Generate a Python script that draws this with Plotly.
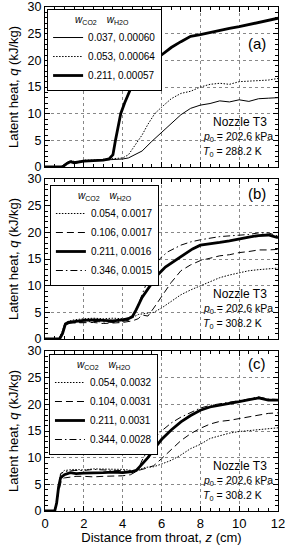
import plotly.graph_objects as go

# ---------------- data ----------------
# Panel (a)  T0 = 288.2 K
a1_label = "0.037, 0.00060"
a1_z = [0, 0.8, 1.0, 1.2, 1.4, 1.6, 1.8, 2.0, 2.5, 3.0, 3.5, 4.0, 4.3, 4.6, 5.0, 5.5, 6.0, 6.5, 7.0, 7.5, 8.0, 8.5, 9.0, 9.5, 10.0, 10.5, 11.0, 11.5, 12.0]
a1_q = [0, 0, 0.5, 1.0, 1.1, 0.7, 1.0, 1.2, 1.2, 1.3, 1.4, 1.5, 1.7, 2.2, 3.0, 4.8, 6.5, 8.2, 9.8, 11.0, 11.6, 11.9, 12.4, 12.2, 12.6, 12.3, 12.8, 12.9, 13.0]

a2_label = "0.053, 0.00064"
a2_z = [0, 0.8, 1.0, 1.2, 1.4, 1.6, 1.8, 2.0, 2.5, 3.0, 3.5, 4.0, 4.3, 4.6, 5.0, 5.3, 5.65, 6.0, 6.5, 7.0, 7.5, 8.0, 8.5, 9.0, 9.5, 10.0, 10.5, 11.0, 11.5, 12.0]
a2_q = [0, 0, 0.4, 0.9, 1.2, 0.9, 1.1, 1.3, 1.3, 1.4, 1.5, 1.7, 2.3, 3.8, 6.0, 8.0, 10.0, 11.2, 12.8, 13.8, 14.2, 15.0, 15.5, 15.7, 15.5, 16.0, 16.1, 16.2, 16.3, 16.6]

a3_label = "0.211, 0.00057"
a3_z = [0, 0.9, 1.1, 1.3, 1.5, 1.7, 2.0, 2.5, 3.0, 3.3, 3.5, 3.63, 3.9, 4.1, 4.45, 5.0, 5.65, 6.0, 6.5, 7.0, 7.5, 8.0, 8.5, 9.0, 9.5, 10.0, 10.5, 11.0, 11.5, 12.0]
a3_q = [0, 0, 0.6, 1.0, 0.8, 0.9, 1.1, 1.2, 1.3, 1.5, 2.3, 5.0, 10.0, 12.0, 15.0, 17.6, 20.0, 21.0, 22.4, 23.5, 24.5, 24.8, 25.2, 25.7, 26.0, 26.3, 26.7, 27.1, 27.6, 27.9]

# Panel (b)  T0 = 308.2 K
b1_label = "0.054, 0.0017"
b1_z = [0, 0.7, 0.9, 1.0, 1.2, 1.5, 2.0, 2.5, 3.0, 3.5, 4.0, 4.5, 4.8, 5.2, 5.6, 6.0, 6.5, 7.0, 7.5, 8.0, 8.5, 9.0, 9.5, 10.0, 10.5, 11.0, 11.5, 12.0]
b1_q = [0, 0, 1.5, 2.8, 3.3, 3.6, 3.8, 3.9, 3.8, 3.9, 3.8, 4.0, 4.6, 4.8, 5.0, 5.8, 7.0, 8.3, 9.2, 10.0, 10.8, 11.5, 12.0, 12.4, 12.8, 13.0, 13.2, 13.3]

b2_label = "0.106, 0.0017"
b2_z = [0, 0.7, 0.9, 1.05, 1.3, 2.0, 2.5, 3.0, 3.5, 4.0, 4.5, 4.8, 5.0, 5.3, 5.6, 6.0, 6.5, 7.0, 7.5, 8.0, 8.5, 9.0, 9.5, 10.0, 10.5, 11.0, 11.5, 12.0]
b2_q = [0, 0, 1.2, 2.7, 3.0, 3.0, 3.1, 2.9, 3.0, 3.1, 3.4, 3.8, 4.5, 4.3, 5.8, 8.0, 10.6, 12.8, 13.9, 14.7, 15.2, 15.6, 15.8, 16.2, 16.4, 16.7, 16.7, 16.8]

b3_label = "0.211, 0.0016"
b3_z = [0, 0.75, 0.9, 1.05, 1.2, 1.5, 2.0, 2.5, 3.0, 3.5, 4.0, 4.3, 4.5, 4.7, 5.0, 5.4, 5.8, 6.2, 6.8, 7.2, 7.6, 8.0, 8.5, 9.0, 9.5, 10.0, 10.5, 11.0, 11.5, 12.0]
b3_q = [0, 0, 1.0, 2.8, 3.1, 3.3, 3.5, 3.6, 3.5, 3.4, 3.6, 3.8, 4.2, 5.5, 7.8, 10.0, 12.0, 13.5, 15.0, 16.0, 16.9, 17.6, 17.8, 18.1, 18.4, 18.8, 19.1, 19.4, 19.5, 19.0]

b4_label = "0.346, 0.0015"
b4_z = [0, 0.75, 0.9, 1.05, 1.3, 2.0, 2.5, 3.0, 3.5, 4.0, 4.4, 4.7, 5.0, 5.2, 5.5, 5.9, 6.3, 7.0, 7.5, 8.0, 9.0, 10.0, 10.5, 11.0, 11.5, 12.0]
b4_q = [0, 0, 1.2, 2.6, 3.0, 3.2, 3.3, 3.2, 3.1, 3.3, 3.6, 5.5, 8.5, 10.2, 12.8, 15.0, 16.3, 17.6, 18.2, 18.6, 19.2, 19.5, 19.6, 19.9, 19.9, 19.3]

# Panel (c)  T0 = 308.2 K
c1_label = "0.054, 0.0032"
c1_z = [0, 0.5, 0.65, 0.8, 0.9, 1.0, 1.5, 2.0, 2.5, 3.0, 3.5, 4.0, 4.5, 4.8, 5.2, 5.6, 6.0, 6.5, 7.0, 7.5, 8.0, 8.5, 9.0, 9.5, 10.0, 10.5, 11.0, 11.5, 12.0]
c1_q = [0, 0, 3.0, 6.5, 7.3, 7.6, 7.8, 7.7, 7.9, 7.9, 7.9, 7.8, 7.6, 7.7, 8.2, 8.3, 8.8, 9.5, 10.5, 11.7, 12.5, 13.6, 14.1, 14.6, 14.9, 15.1, 15.3, 15.4, 15.6]

c2_label = "0.104, 0.0031"
c2_z = [0, 0.5, 0.7, 0.85, 1.0, 1.3, 1.6, 2.0, 2.5, 3.0, 3.5, 4.0, 4.4, 4.8, 5.2, 5.6, 6.0, 6.5, 7.0, 7.5, 8.0, 8.5, 9.0, 9.5, 10.0, 10.5, 11.0, 11.5, 12.0]
c2_q = [0, 0, 3.5, 5.8, 6.2, 6.4, 6.5, 6.5, 6.4, 6.5, 6.5, 6.6, 6.8, 7.6, 8.0, 8.5, 9.8, 11.5, 13.2, 14.5, 15.5, 16.3, 16.8, 17.0, 17.3, 17.7, 18.0, 18.3, 18.4]

c3_label = "0.211, 0.0031"
c3_z = [0, 0.5, 0.6, 0.7, 0.8, 1.0, 1.3, 1.6, 2.0, 2.5, 3.0, 3.5, 4.0, 4.5, 4.7, 5.0, 5.3, 5.7, 6.0, 6.5, 7.0, 7.5, 8.0, 8.5, 9.0, 9.5, 10.0, 10.5, 11.0, 11.5, 12.0]
c3_q = [0, 0, 1.5, 4.5, 6.2, 6.8, 7.2, 7.0, 7.1, 7.1, 7.2, 7.3, 7.2, 7.4, 7.6, 8.8, 10.0, 12.0, 13.4, 15.2, 16.7, 17.9, 18.9, 19.5, 19.9, 20.2, 20.5, 20.8, 21.2, 20.8, 20.8]

c4_label = "0.344, 0.0028"
c4_z = [0, 0.5, 0.65, 0.8, 1.0, 1.5, 2.0, 2.5, 3.0, 3.5, 4.0, 4.5, 4.8, 5.0, 5.3, 5.6, 6.0, 6.5, 7.0, 7.5, 8.0, 8.5, 9.0, 9.5, 10.0, 10.5, 11.0, 11.5, 12.0]
c4_q = [0, 0, 2.5, 7.0, 7.4, 7.6, 7.6, 7.8, 7.7, 7.6, 7.5, 7.5, 7.8, 9.5, 11.5, 13.5, 15.0, 16.5, 17.6, 18.5, 19.3, 19.8, 20.1, 20.3, 20.7, 21.0, 21.4, 21.0, 20.9]

panel_tags = ["(a)", "(b)", "(c)"]
panel_T0 = ["288.2", "308.2", "308.2"]
p0_value = "202.6"

x_ticks = [0, 2, 4, 6, 8, 10, 12]
y_ticks = [0, 5, 10, 15, 20, 25, 30]

# ---------------- styles ----------------
FONT = "Arial, Liberation Sans, sans-serif"
thin_solid = dict(color="black", width=1)
dotted = dict(color="black", width=1, dash="1.5px,1.5px")
thick = dict(color="black", width=2.8)
longdash = dict(color="black", width=1, dash="7px,4px")
dashdot = dict(color="black", width=1, dash="7px,3px,1.5px,3px")

fig = go.Figure()

panels = [
    ("x", "y", "legend", [(a1_z, a1_q, a1_label, thin_solid), (a2_z, a2_q, a2_label, dotted), (a3_z, a3_q, a3_label, thick)]),
    ("x2", "y2", "legend2", [(b1_z, b1_q, b1_label, dotted), (b2_z, b2_q, b2_label, longdash), (b3_z, b3_q, b3_label, thick), (b4_z, b4_q, b4_label, dashdot)]),
    ("x3", "y3", "legend3", [(c1_z, c1_q, c1_label, dotted), (c2_z, c2_q, c2_label, longdash), (c3_z, c3_q, c3_label, thick), (c4_z, c4_q, c4_label, dashdot)]),
]
for xa, ya, lg, series in panels:
    for z, q, lab, st in series:
        fig.add_trace(go.Scatter(x=z, y=q, mode="lines", name=lab, line=st,
                                 xaxis=xa, yaxis=ya, legend=lg, hoverinfo="skip"))

# panel geometry (paper fractions)
H = 504.0
doms = [((511 - 167) / H, 1.0), ((511 - 339) / H, (511 - 179) / H), (0.0, (511 - 351) / H)]

common_x = dict(range=[0, 12], tickvals=x_ticks, ticks="inside", ticklen=5, tickwidth=1,
                tickcolor="black", showline=True, linecolor="black", linewidth=1, mirror="allticks",
                showgrid=True, gridcolor="#888", griddash="dot", gridwidth=1, zeroline=False,
                minor=dict(dtick=0.5, ticks="inside", ticklen=3, tickcolor="black", showgrid=False),
                tickfont=dict(family=FONT, size=13, color="black"), automargin=False,
                ticklabeloverflow="allow")
common_y = dict(range=[0, 30], tickvals=y_ticks, ticks="inside", ticklen=5, tickwidth=1,
                tickcolor="black", showline=True, linecolor="black", linewidth=1, mirror="allticks",
                showgrid=True, gridcolor="#888", griddash="dot", gridwidth=1, zeroline=False,
                minor=dict(dtick=1, ticks="inside", ticklen=3, tickcolor="black", showgrid=False),
                tickfont=dict(family=FONT, size=12.5, color="black"), automargin=False,
                ticklabeloverflow="allow",
                title=dict(text="Latent heat, <i>q</i> (kJ/kg)", font=dict(family=FONT, size=13, color="black"), standoff=6))

fig.update_layout(
    xaxis=dict(common_x, anchor="y", showticklabels=False),
    xaxis2=dict(common_x, anchor="y2", showticklabels=False, matches="x"),
    xaxis3=dict(common_x, anchor="y3", showticklabels=True, matches="x",
                title=dict(text="Distance from throat, <i>z</i> (cm)", font=dict(family=FONT, size=13, color="black"), standoff=2)),
    yaxis=dict(common_y, anchor="x", domain=list(doms[0])),
    yaxis2=dict(common_y, anchor="x2", domain=list(doms[1])),
    yaxis3=dict(common_y, anchor="x3", domain=list(doms[2])),
)

legend_title = "\u200b" + "\u2002" * 5 + "<i>w</i><sub>CO2</sub>\u2002\u2002<i>w</i><sub>H2O</sub>"
leg_common = dict(bgcolor="white", bordercolor="black", borderwidth=1, xanchor="left", yanchor="top",
                  font=dict(family=FONT, size=10, color="black"), itemwidth=30,
                  title=dict(text=legend_title, side="top", font=dict(family=FONT, size=10, color="black")),
                  tracegroupgap=0)
fig.update_layout(
    legend=dict(leg_common, x=0.009, y=0.996),
    legend2=dict(leg_common, x=0.021, y=(511 - 185) / H),
    legend3=dict(leg_common, x=0.017, y=(511 - 354) / H),
)

for i, suf in enumerate(["", "2", "3"]):
    xr = "x" + suf + " domain"
    yr = "y" + suf + " domain"
    tag_y = [0.775, 0.91, 0.92][i]
    fig.add_annotation(text=panel_tags[i], xref=xr, yref=yr, x=0.91, y=tag_y, showarrow=False,
                       font=dict(family=FONT, size=15, color="black"), xanchor="center", yanchor="middle")
    fig.add_annotation(text="Nozzle T3", xref=xr, yref=yr, x=0.837, y=0.28, showarrow=False,
                       font=dict(family=FONT, size=12, color="black"), xanchor="center", yanchor="middle")
    fig.add_annotation(text="<i>p</i><sub>0</sub> = " + p0_value + " kPa", xref=xr, yref=yr, x=0.668, y=0.19,
                       showarrow=False, font=dict(family=FONT, size=10.5, color="black"), xanchor="left", yanchor="middle")
    fig.add_annotation(text="<i>T</i><sub>0</sub> = " + panel_T0[i] + " K", xref=xr, yref=yr, x=0.668, y=0.095,
                       showarrow=False, font=dict(family=FONT, size=10.5, color="black"), xanchor="left", yanchor="middle")

fig.update_layout(
    width=285, height=545,
    margin=dict(l=45, r=7, t=7, b=34),
    paper_bgcolor="white", plot_bgcolor="white",
    showlegend=True, hovermode=False,
    font=dict(family=FONT, size=13, color="black"),
)

fig.write_html("out.html", config={"displayModeBar": False, "staticPlot": True},
               post_script="document.body.style.margin='0';document.body.style.overflow='hidden';")
